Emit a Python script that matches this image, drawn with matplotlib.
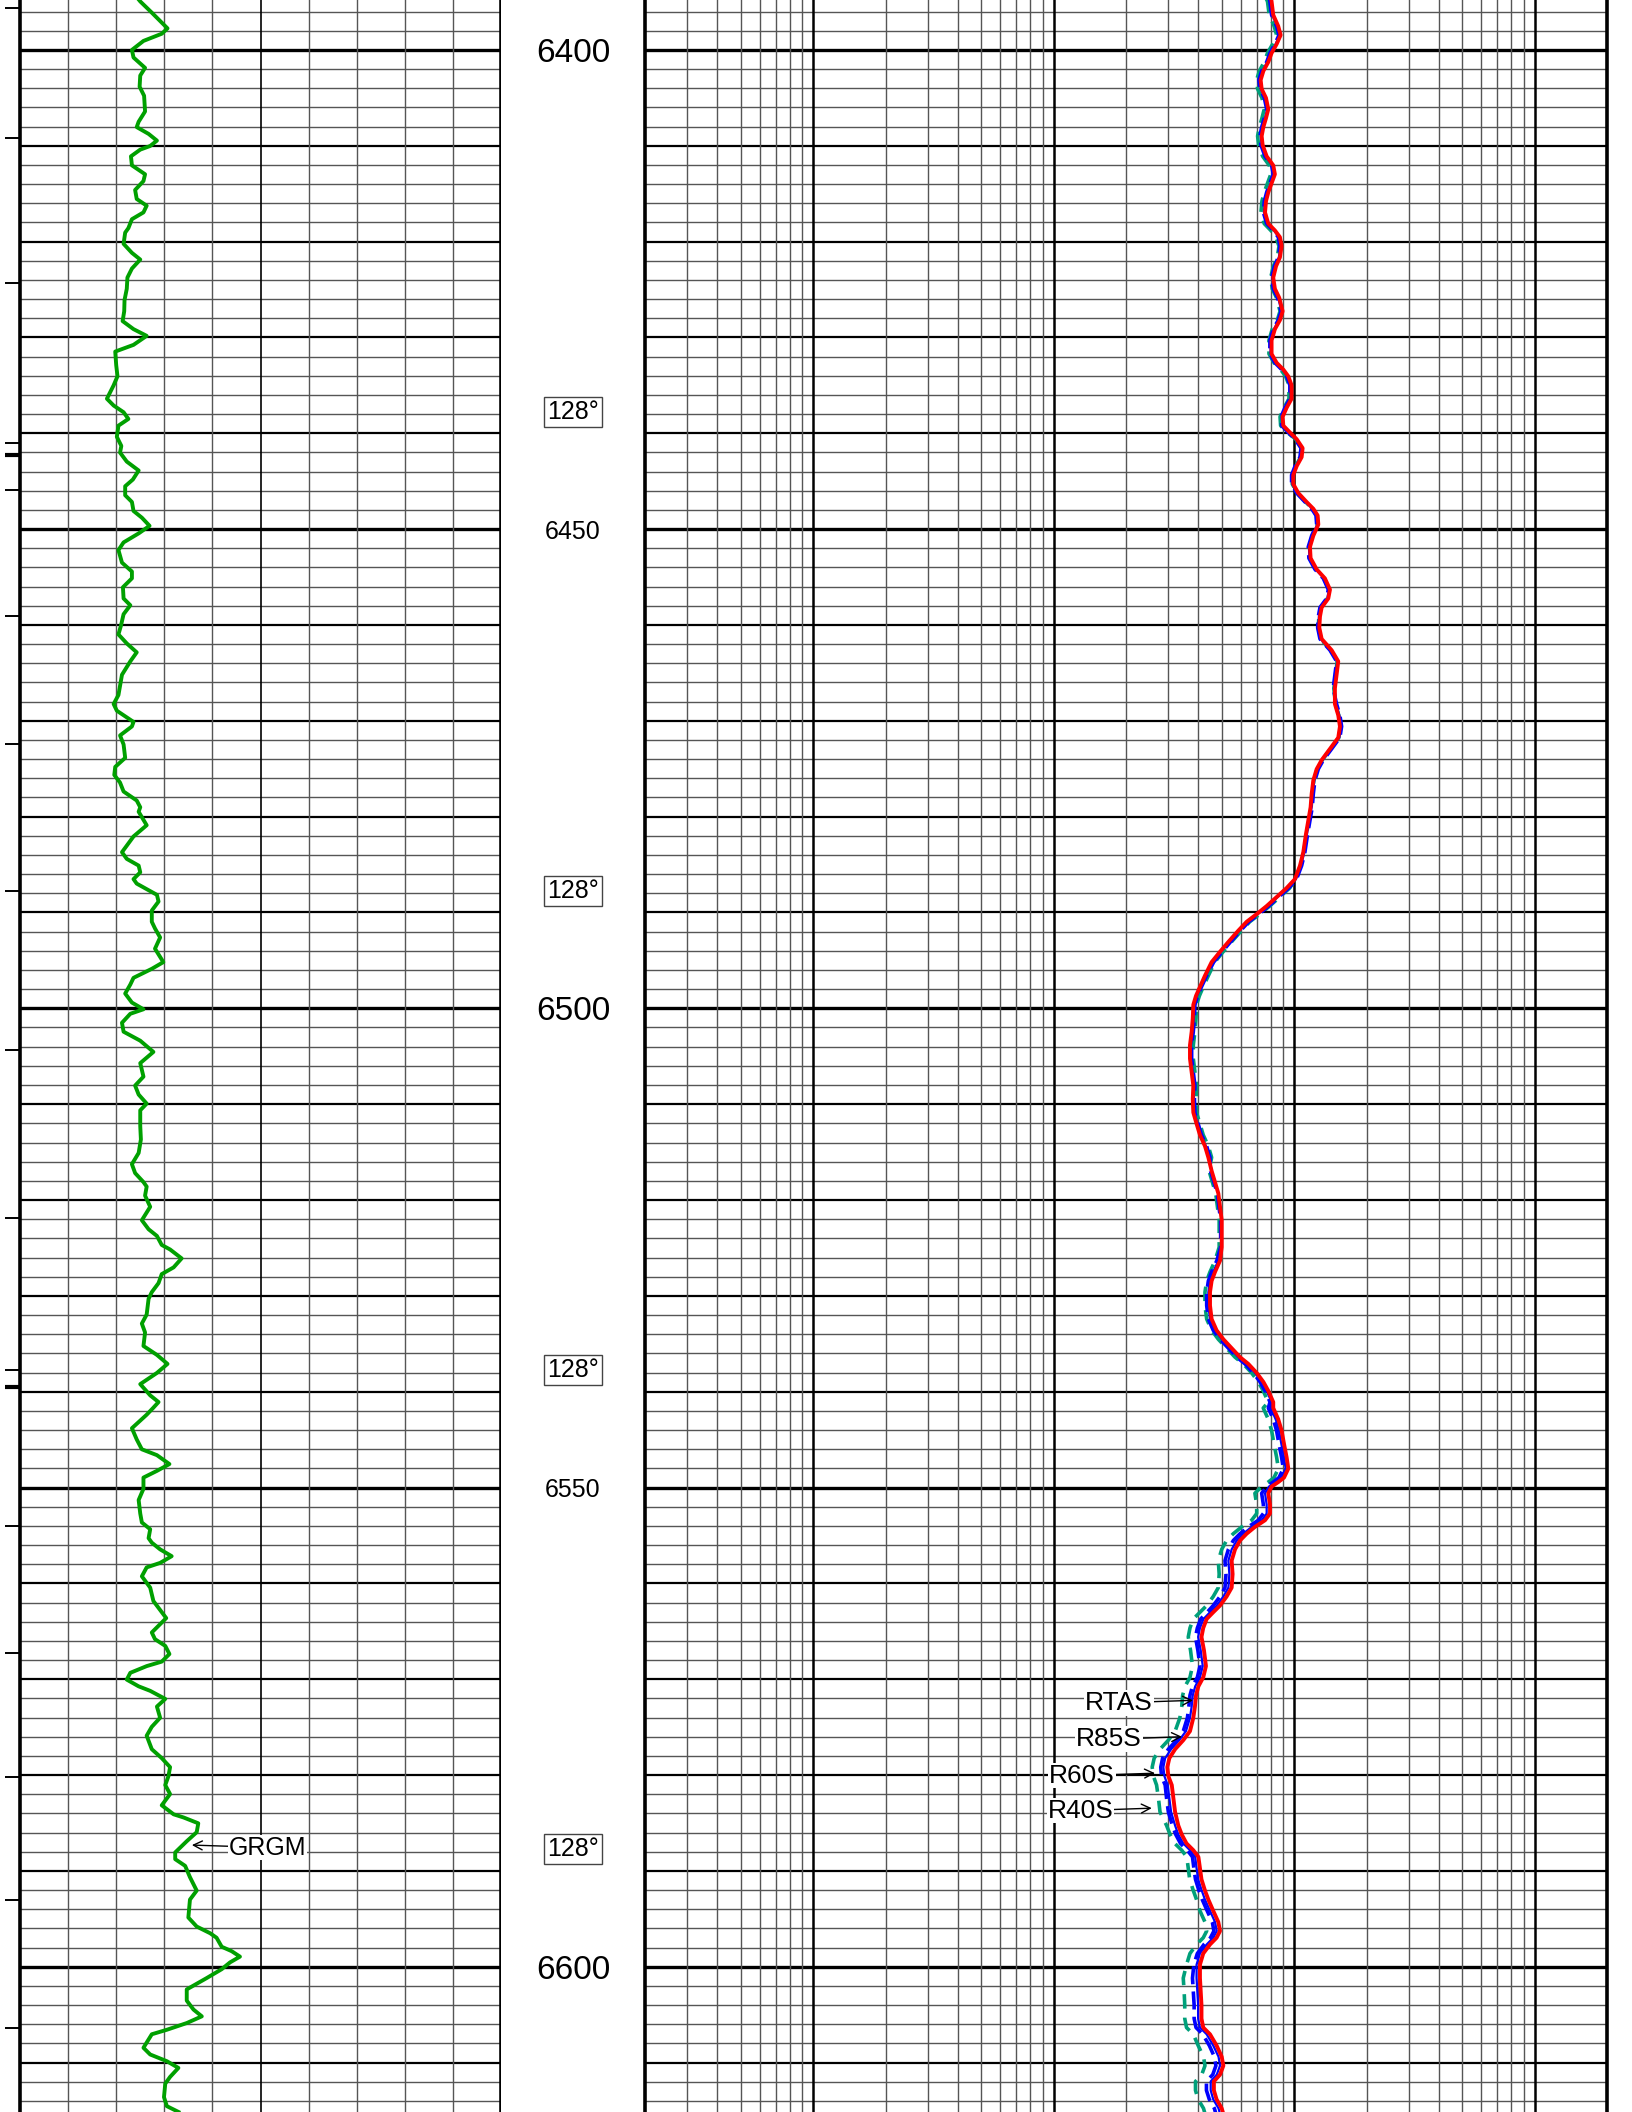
import numpy as np
import matplotlib
matplotlib.use("Agg")
import matplotlib.pyplot as plt
from matplotlib.ticker import NullLocator

plt.rcParams['font.family'] = ['Liberation Sans', 'DejaVu Sans']

# ---------------- data ----------------
DEPTH_TOP, DEPTH_BOT = 6394.80, 6615.15

gr_depth = [6394.50, 6394.95, 6396.12, 6396.82, 6397.76, 6398.32, 6399.07, 6400.01, 6400.80, 6401.88, 6402.68,
            6403.85, 6404.79, 6406.43, 6407.50, 6408.06, 6408.77, 6409.47, 6410.03, 6410.41, 6411.11,
            6412.05, 6412.98, 6413.69, 6414.62, 6415.56, 6416.26, 6416.96, 6417.67, 6418.60, 6419.07,
            6420.24, 6421.18, 6421.88, 6422.82, 6423.76, 6424.93, 6426.10, 6427.27, 6428.30, 6429.14,
            6429.84, 6430.78, 6431.48, 6432.89, 6434.06, 6435.00, 6436.40, 6437.11, 6437.81, 6438.51,
            6439.21, 6440.38, 6441.32, 6442.02, 6442.96, 6443.89, 6444.83, 6445.53, 6446.47, 6447.17,
            6448.11, 6448.81, 6449.66, 6450.45, 6451.39, 6452.19, 6453.50, 6454.43, 6455.14, 6456.07,
            6457.24, 6457.95, 6458.88, 6460.05, 6460.99, 6461.93, 6462.86, 6463.80, 6465.20, 6466.38,
            6467.31,
            6468.25, 6468.95, 6470.12, 6470.59, 6471.53, 6472.47, 6473.87, 6474.81, 6475.65, 6476.45,
            6477.38, 6478.32, 6479.02, 6479.49, 6480.90, 6482.07, 6483.71, 6484.41, 6485.11, 6485.81,
            6486.52, 6486.99, 6488.16, 6488.86, 6489.80, 6490.97, 6491.67, 6492.61, 6493.78, 6495.18,
            6495.88, 6496.82, 6497.52, 6498.46, 6499.40, 6500.10, 6500.57, 6501.51, 6502.44, 6503.38,
            6504.55, 6505.72, 6507.13, 6508.06, 6509.00, 6509.94, 6510.64, 6512.28, 6513.68, 6515.09,
            6516.26, 6517.19, 6518.13, 6518.60, 6519.54, 6520.71, 6522.11, 6523.05, 6523.75, 6524.69,
            6525.16, 6526.09, 6527.03, 6527.73, 6528.67, 6529.61, 6530.31, 6531.95, 6532.89, 6533.82,
            6535.23, 6536.16, 6537.10, 6538.04, 6539.21, 6540.38, 6541.08,
            6541.70, 6542.40, 6543.81, 6544.98, 6546.01, 6546.62, 6547.55, 6548.26, 6548.96, 6550.13,
            6551.30, 6552.71, 6553.64, 6554.35, 6555.28, 6555.75, 6556.45, 6557.16, 6557.86, 6558.33,
            6559.26, 6560.44, 6561.84, 6562.78, 6563.62, 6564.42, 6565.12, 6565.82, 6566.52, 6567.37,
            6568.16, 6568.63, 6569.33, 6570.04, 6570.74, 6571.21, 6572.05, 6572.85, 6574.02, 6574.96,
            6575.89, 6577.30, 6578.23, 6579.17, 6580.11, 6581.04, 6581.98, 6583.15, 6584.09, 6584.42,
            6585.03, 6585.96, 6586.90, 6588.07, 6588.77, 6589.47, 6590.65, 6592.05, 6592.99, 6594.86,
            6595.80, 6596.50, 6596.97, 6597.91, 6598.37, 6598.94, 6599.54, 6600.25, 6601.18, 6602.36,
            6603.53, 6604.46, 6605.17, 6605.87, 6606.57, 6607.04, 6608.45, 6609.15, 6609.85, 6610.55,
            6611.49, 6612.19, 6613.60, 6614.54, 6615.14]
gr_api = [36.4, 37.5, 41.1, 43.2, 46.0, 44.2, 38.5, 34.9, 35.4, 39.0, 37.5,
          37.3, 38.7, 39.0, 37.0, 36.4, 40.1, 42.7, 40.6, 37.5, 34.6,
          34.9, 39.0, 38.5, 35.9, 36.4, 39.5, 38.5, 34.9, 33.8, 32.8,
          32.3, 34.9, 37.5, 34.9, 33.5, 33.3, 32.6, 32.5, 32.0, 35.4,
          39.5, 35.4, 29.7, 30.0, 30.4, 29.2, 27.1, 29.2, 32.3, 33.8,
          30.7, 30.2, 31.6, 31.2, 33.3, 37.0, 35.2, 32.8, 32.8, 34.9,
          35.4, 38.0, 40.4, 37.0, 32.3, 30.7, 31.8, 34.9, 34.9, 32.1,
          32.3, 34.4, 32.3, 31.5, 30.7, 33.3, 36.4, 34.4, 31.8, 31.2,
          30.7,
          29.2, 30.2, 35.4, 34.9, 31.2, 32.3, 32.8, 29.7, 29.4, 31.2,
          32.3, 36.4, 37.5, 37.0, 39.5, 35.4, 31.8, 33.3, 37.0, 37.5,
          35.4, 36.4, 42.7, 43.2, 41.1, 41.1, 42.1, 43.7, 42.1, 44.7,
          41.1, 35.4, 34.4, 32.8, 34.9, 38.5, 34.4, 31.8, 32.3, 37.5,
          41.6, 37.5, 38.5, 35.9, 37.0, 39.5, 37.5, 37.5, 37.7, 37.0,
          34.9, 35.9, 38.5, 39.5, 39.0, 40.6, 38.0, 40.1, 42.7, 44.2,
          46.8, 50.4, 47.9, 44.2, 43.2, 41.1, 40.1, 39.5, 38.0, 39.0,
          38.5, 42.7, 46.0, 42.7, 37.5, 40.6, 43.2,
          41.5, 39.5, 34.9, 36.4, 38.0, 42.7, 46.6, 42.7, 38.5, 38.5,
          37.0, 37.5, 38.0, 40.6, 40.1, 41.1, 43.7, 47.3, 43.7, 39.5,
          38.0, 40.6, 41.6, 43.7, 45.6, 43.2, 41.1, 42.1, 45.3, 46.6,
          44.2, 39.5, 34.4, 33.3, 37.0, 40.6, 45.3, 42.7, 43.7, 41.1,
          39.5, 41.1, 44.2, 46.8, 46.3, 45.3, 46.8, 44.2, 47.9, 51.0,
          55.6, 55.1, 52.0, 48.4, 48.4, 51.5, 53.0, 55.1, 53.0, 52.5,
          55.1, 59.3, 61.3, 62.9, 66.0, 68.6, 65.5, 62.9, 58.2, 52.0,
          52.0, 54.1, 56.7, 52.0, 45.8, 41.1, 38.5, 40.6, 45.8, 49.4,
          46.8, 45.3, 44.9, 45.8, 49.4]

res_depth = [6394.50,
             6394.95, 6396.36, 6397.53, 6398.46, 6399.40, 6400.34, 6401.27, 6402.21, 6403.15, 6404.08,
             6405.02, 6406.19, 6407.13, 6408.06, 6409.00, 6409.94, 6411.11, 6412.05, 6412.98, 6413.92,
             6414.86, 6415.79, 6416.96, 6418.13, 6418.84, 6419.54, 6420.48, 6421.65, 6422.58, 6423.76,
             6424.93, 6425.86, 6427.27, 6428.20, 6429.14, 6430.31, 6431.72, 6432.65, 6433.36, 6434.06,
             6434.99, 6436.40, 6437.34, 6438.28, 6439.21, 6439.92, 6440.62, 6441.55, 6442.49, 6443.43,
             6444.36, 6445.30, 6446.24, 6447.17, 6447.88, 6448.58, 6449.52, 6450.69, 6451.86, 6453.03,
             6454.20, 6455.14, 6456.31, 6457.24, 6458.18, 6459.12, 6460.29, 6461.46, 6462.63, 6463.80,
             6465.20, 6466.61,
             6468.25, 6469.42, 6470.59, 6471.76, 6472.93, 6474.10, 6475.04, 6476.21, 6477.62, 6479.02,
             6480.43, 6481.83, 6483.71, 6485.11, 6486.52, 6487.45, 6488.39, 6489.33, 6490.17, 6490.97,
             6491.90, 6493.07, 6494.10, 6495.18, 6496.59, 6497.76, 6498.69, 6499.63, 6501.04, 6502.44,
             6503.85, 6505.25, 6506.66, 6508.06, 6509.47, 6510.87, 6512.04, 6513.21, 6514.38, 6515.56,
             6516.96, 6518.13, 6519.30, 6520.71, 6522.11, 6523.52, 6524.92, 6526.33, 6527.50, 6528.44,
             6529.61, 6531.01, 6532.42, 6533.59, 6534.53, 6535.46, 6536.40, 6537.10, 6538.04, 6538.98,
             6539.91, 6541.08,
             6541.70, 6542.87, 6544.04, 6545.45, 6546.85, 6548.02, 6548.96, 6549.43, 6549.90, 6550.60,
             6551.77, 6552.71, 6553.41, 6554.11, 6554.81, 6555.52, 6556.45, 6557.63, 6559.03, 6560.44,
             6561.37, 6562.31, 6563.01, 6563.71, 6564.65, 6565.59, 6566.99, 6568.63, 6569.80, 6570.74,
             6571.68, 6572.85, 6574.02, 6575.42, 6576.36, 6577.30, 6578.23, 6579.17, 6580.11, 6581.04,
             6582.45, 6583.85, 6585.26, 6586.20, 6587.13, 6587.84, 6588.54, 6589.71, 6590.88, 6592.05,
             6592.99, 6594.16, 6595.33, 6596.27, 6596.97, 6597.67, 6598.61, 6599.78, 6601.18, 6602.59,
             6603.99, 6605.40, 6606.34, 6607.04, 6608.21, 6609.38, 6610.32, 6611.25, 6611.96, 6612.89,
             6613.83, 6614.77, 6615.50]

rtas = [80.0,
        80.6, 81.9, 85.9, 87.9, 84.6, 80.6, 78.1, 74.5, 72.6, 73.3,
        76.4, 78.1, 76.4, 74.5, 73.3, 74.0, 76.9, 81.9, 83.2, 80.6,
        78.1, 76.4, 75.7, 78.1, 83.2, 87.3, 88.7, 87.3, 84.1, 81.9,
        83.2, 86.7, 89.6, 87.3, 83.2, 80.6, 80.6, 84.6, 90.2, 94.6,
        97.6, 97.6, 93.1, 89.6, 90.2, 96.1, 102.5, 108.5, 107.5, 102.5,
        99.2, 99.2, 104.1, 112.7, 120.2, 125.3, 126.1, 120.2, 116.4, 117.1,
        124.1, 134.3, 141.0, 138.7, 130.2, 128.1, 127.3, 130.2, 143.2, 152.6,
        150.2, 147.8,
        147.8, 152.6, 155.1, 152.6, 141.0, 130.2, 124.1, 120.2, 118.3, 117.1,
        114.5, 112.0, 109.2, 105.8, 100.8, 93.1, 84.6, 76.9, 69.9, 63.5,
        58.6, 53.3, 49.2, 45.4, 42.6, 40.6, 39.1, 38.1, 37.9, 37.5,
        36.9, 36.9, 37.5, 38.1, 37.9, 38.1, 39.3, 40.6, 42.6, 44.0,
        45.4, 46.9, 48.4, 49.2, 50.0, 50.0, 50.0, 49.2, 46.9, 45.4,
        44.7, 44.7, 45.4, 47.6, 50.8, 55.0, 59.6, 64.5, 69.9, 74.5,
        78.1, 81.9,
        81.9, 85.9, 88.7, 90.8, 93.1, 94.6, 90.8, 85.9, 80.6, 78.1,
        79.4, 79.4, 75.7, 68.7, 63.5, 59.6, 56.8, 55.0, 55.5, 55.0,
        52.4, 49.2, 46.1, 43.3, 41.9, 41.2, 42.2, 43.0, 41.9, 40.0,
        39.1, 38.7, 38.1, 36.9, 34.6, 32.0, 30.3, 29.7, 30.0, 31.0,
        31.5, 32.0, 33.0, 34.1, 35.7, 38.1, 40.0, 40.6, 41.2, 42.6,
        44.0, 46.1, 48.4, 49.2, 47.6, 44.7, 41.9, 40.6, 40.6, 40.9,
        41.2, 41.2, 41.9, 44.7, 47.6, 50.0, 50.8, 49.2, 46.4, 46.4,
        47.6, 50.0, 51.0]

r85s = [79.2,
        79.8, 81.1, 85.0, 87.0, 83.8, 79.8, 77.3, 73.8, 71.9, 72.6,
        75.6, 77.3, 75.6, 73.8, 72.6, 73.3, 76.1, 81.1, 82.4, 79.8,
        77.3, 75.6, 74.9, 77.3, 82.4, 86.4, 87.8, 86.4, 83.3, 81.1,
        82.4, 85.8, 88.7, 86.4, 82.4, 79.8, 79.8, 83.8, 89.3, 93.7,
        96.6, 96.6, 92.2, 88.7, 89.3, 95.1, 101.5, 107.4, 106.4, 101.5,
        98.2, 98.2, 103.1, 111.6, 119.0, 124.0, 124.8, 119.0, 115.2, 115.9,
        122.9, 133.0, 139.6, 137.3, 128.9, 126.8, 126.0, 128.9, 141.8, 151.1,
        148.7, 146.3,
        149.3, 154.1, 156.7, 154.1, 142.4, 131.5, 125.3, 121.4, 119.5, 118.3,
        115.6, 113.1, 110.3, 106.9, 101.8, 94.0, 85.4, 77.7, 70.6, 64.1,
        59.2, 53.8, 49.7, 45.9, 43.0, 41.0, 39.5, 38.5, 38.3, 37.9,
        37.3, 37.3, 37.9, 38.5, 38.3, 38.5, 39.7, 41.0, 43.0, 44.4,
        45.4, 46.9, 48.4, 49.2, 50.0, 50.0, 50.0, 48.4, 46.1, 44.7,
        44.0, 44.0, 44.7, 46.8, 50.0, 54.1, 58.6, 63.5, 68.8, 73.3,
        76.9, 80.6,
        79.9, 83.8, 86.5, 88.5, 90.8, 92.2, 88.5, 83.8, 78.6, 75.7,
        76.9, 76.9, 73.4, 66.6, 61.5, 57.8, 55.0, 53.3, 53.8, 53.3,
        50.8, 47.7, 44.7, 42.0, 40.6, 39.9, 40.9, 41.7, 40.6, 38.8,
        37.9, 37.5, 36.9, 35.5, 33.3, 30.8, 29.1, 28.6, 28.9, 29.8,
        30.3, 30.8, 32.0, 33.0, 34.6, 36.9, 38.8, 39.3, 39.9, 41.3,
        42.6, 44.7, 46.9, 47.7, 46.1, 43.3, 40.6, 39.3, 39.3, 39.6,
        39.9, 39.9, 40.6, 43.3, 46.1, 48.5, 49.2, 47.7, 45.0, 45.0,
        46.1, 48.5, 49.4]

r60s = [78.7,
        79.3, 80.6, 84.5, 86.5, 83.2, 79.3, 76.9, 73.3, 71.4, 72.1,
        75.2, 76.9, 75.2, 73.3, 72.1, 72.8, 75.7, 80.6, 81.9, 79.3,
        76.9, 75.2, 74.5, 76.9, 81.9, 85.9, 87.3, 85.9, 82.8, 80.6,
        81.9, 85.3, 88.2, 85.9, 81.9, 79.3, 79.3, 83.2, 88.8, 93.1,
        96.0, 96.0, 91.6, 88.2, 88.8, 94.6, 100.9, 106.8, 105.8, 100.9,
        97.6, 97.6, 102.4, 110.9, 118.3, 123.3, 124.1, 118.3, 114.5, 115.2,
        122.1, 132.2, 138.7, 136.5, 128.1, 126.1, 125.3, 128.1, 140.9, 150.2,
        147.8, 145.4,
        150.2, 155.0, 157.6, 155.0, 143.3, 132.3, 126.1, 122.1, 120.2, 119.0,
        116.3, 113.8, 110.9, 107.5, 102.4, 95.0, 86.3, 78.4, 71.3, 64.8,
        59.8, 54.4, 50.2, 46.3, 43.3, 41.2, 39.7, 38.7, 38.5, 38.1,
        37.5, 37.5, 38.1, 38.7, 38.5, 38.7, 39.9, 41.2, 43.3, 44.7,
        44.9, 46.4, 47.9, 48.7, 49.5, 49.5, 49.5, 47.7, 45.4, 44.0,
        43.3, 43.3, 44.0, 46.1, 49.2, 53.3, 57.8, 62.5, 67.7, 72.2,
        75.7, 79.4,
        78.1, 81.9, 84.5, 86.5, 88.7, 90.2, 86.5, 81.9, 76.8, 73.3,
        74.5, 74.5, 71.0, 64.4, 59.6, 55.9, 53.3, 51.6, 52.1, 51.6,
        49.2, 46.1, 43.5, 40.9, 39.6, 38.9, 39.8, 40.6, 39.6, 37.8,
        36.9, 36.5, 36.0, 34.6, 32.5, 30.0, 28.4, 27.9, 28.1, 29.1,
        29.5, 30.0, 31.2, 32.2, 33.7, 36.0, 37.8, 38.3, 38.9, 40.2,
        41.5, 43.5, 45.7, 46.4, 44.9, 42.2, 39.6, 38.3, 37.8, 38.1,
        38.4, 38.4, 39.1, 41.7, 44.4, 46.6, 47.3, 45.9, 43.2, 43.2,
        44.4, 46.6, 47.5]

r40s = [76.0,
        77.5, 78.8, 82.6, 84.6, 81.4, 77.5, 75.1, 71.7, 69.8, 70.5,
        73.5, 75.1, 73.5, 71.7, 70.5, 71.2, 74.0, 78.8, 80.0, 77.5,
        75.1, 73.5, 72.8, 75.1, 80.0, 84.0, 86.5, 85.1, 82.0, 79.9,
        81.1, 84.5, 87.4, 85.1, 81.1, 78.6, 78.6, 82.5, 87.9, 92.2,
        95.2, 95.2, 90.8, 87.4, 87.9, 93.7, 101.5, 107.4, 106.4, 101.5,
        98.2, 98.2, 103.1, 111.6, 119.0, 124.0, 124.8, 119.0, 115.2, 115.9,
        122.9, 133.0, 139.6, 137.3, 128.9, 126.8, 126.0, 128.9, 141.8, 151.1,
        148.7, 146.3,
        148.5, 153.4, 155.9, 153.4, 141.7, 130.9, 124.7, 120.8, 118.9, 117.7,
        115.1, 112.6, 109.7, 106.3, 101.3, 95.9, 87.1, 79.2, 72.0, 65.4,
        60.4, 54.9, 50.7, 46.8, 44.0, 41.9, 40.4, 39.3, 39.1, 38.7,
        38.1, 38.1, 38.7, 39.3, 39.1, 39.3, 40.6, 41.9, 44.0, 45.4,
        44.3, 45.7, 47.2, 48.0, 48.8, 48.8, 48.8, 46.9, 44.7, 43.3,
        42.6, 42.6, 43.3, 45.4, 48.4, 52.4, 56.8, 61.5, 66.6, 71.0,
        74.4, 78.1,
        74.4, 78.1, 80.6, 82.5, 84.6, 86.0, 82.5, 78.1, 73.3, 68.7,
        69.9, 69.9, 66.6, 60.5, 55.9, 52.4, 50.0, 48.4, 48.8, 48.4,
        46.1, 43.3, 40.6, 38.1, 36.9, 36.3, 37.1, 37.8, 36.9, 35.2,
        34.4, 34.1, 33.5, 32.0, 30.0, 27.7, 26.2, 25.7, 26.0, 26.8,
        27.3, 27.7, 29.5, 30.5, 31.9, 34.1, 35.8, 36.3, 36.8, 38.1,
        39.3, 40.6, 42.6, 43.3, 41.9, 39.3, 36.9, 35.7, 34.6, 34.9,
        35.1, 35.1, 35.7, 38.1, 39.9, 42.0, 42.6, 41.3, 38.9, 38.9,
        39.9, 42.0, 42.8]

depth_major_labels = [6400, 6500, 6600]
depth_minor_labels = [6450, 6550]
temp_depths = [6437.5, 6487.5, 6537.5, 6587.5]
temp_text = "128°"
edge_ticks = [6395.6, 6409.15, 6424.3, 6441.0, 6445.95, 6459.1, 6472.45, 6487.8,
              6504.4, 6521.9, 6537.7, 6554.0, 6567.3, 6580.2, 6593.0, 6606.4]
edge_ticks_bold = [6442.3, 6539.5]

# curve label annotations: (name, tip value, text edge value, depth)
gr_label = ("GRGM", 53.6, 65.2, 6587.3)
res_labels = [("RTAS", 38.0, 25.9, 6572.2),
              ("R85S", 34.2, 23.3, 6576.0),
              ("R60S", 26.4, 18.0, 6579.8),
              ("R40S", 25.6, 17.7, 6583.45)]

GR_MIN, GR_MAX = 0, 150
RES_MIN, RES_MAX = 0.2, 2000

# ---------------- layout ----------------
W, H = 1632, 2112
fig = plt.figure(figsize=(W / 100, H / 100), dpi=100)
fig.patch.set_facecolor("white")

def fx(px):
    return px / W

ax_tk = fig.add_axes([0, 0, fx(20), 1])
ax_gr = fig.add_axes([fx(20), 0, fx(481), 1])
ax_dep = fig.add_axes([fx(501), 0, fx(144), 1])
ax_res = fig.add_axes([fx(645), 0, fx(962), 1])

ax_res.set_xscale("log")
ax_res.set_xlim(RES_MIN, RES_MAX)
ax_gr.set_xlim(GR_MIN, GR_MAX)
ax_dep.set_xlim(0, 1)
ax_tk.set_xlim(0, 20)

for ax in (ax_tk, ax_gr, ax_dep, ax_res):
    ax.set_ylim(DEPTH_BOT, DEPTH_TOP)
    ax.xaxis.set_major_locator(NullLocator())
    ax.xaxis.set_minor_locator(NullLocator())
    ax.yaxis.set_major_locator(NullLocator())
    ax.yaxis.set_minor_locator(NullLocator())
    ax.tick_params(which="both", bottom=False, top=False, left=False, right=False,
                   labelbottom=False, labelleft=False)

for ax in (ax_tk, ax_dep):
    for s in ax.spines.values():
        s.set_visible(False)
for ax in (ax_gr, ax_res):
    ax.spines["top"].set_visible(False)
    ax.spines["bottom"].set_visible(False)
    for side in ("left", "right"):
        ax.spines[side].set_linewidth(2.6)
        ax.spines[side].set_color("black")
        ax.spines[side].set_zorder(6)

# horizontal grid
for d in range(6396, 6616, 2):
    if d % 50 == 0:
        lw, c = 2.4, "black"
    elif d % 10 == 0:
        lw, c = 1.6, "black"
    else:
        lw, c = 1.0, "#555555"
    for ax in (ax_gr, ax_res):
        ax.axhline(d, color=c, lw=lw, zorder=1)

# vertical grid, GR track
for i in range(1, 10):
    v = GR_MIN + i * (GR_MAX - GR_MIN) / 10
    ax_gr.axvline(v, color="black" if i == 5 else "#555555",
                  lw=1.2 if i == 5 else 1.0, zorder=1)

# vertical grid, resistivity track (log)
for k in range(-1, 4):
    for m in range(1, 10):
        v = m * 10.0 ** k
        if v <= RES_MIN * 1.0001 or v >= RES_MAX * 0.9999:
            continue
        if m == 1:
            ax_res.axvline(v, color="black", lw=1.8, zorder=1)
        else:
            ax_res.axvline(v, color="#555555", lw=1.0, zorder=1)

# edge ticks
ax_tk.hlines(edge_ticks, 5, 20, color="black", lw=1.4)
ax_tk.hlines(edge_ticks_bold, 5, 20, color="black", lw=3.0)

# curves
ax_gr.plot(gr_api, gr_depth, color="#00A000", lw=2.8, zorder=3, solid_joinstyle="round")
ax_res.plot(r40s, res_depth, color="#00A07A", lw=2.6, ls=(0, (4, 2.5)), zorder=3)
ax_res.plot(r60s, res_depth, color="#0000FF", lw=2.6, ls=(0, (5, 2)), zorder=3)
ax_res.plot(r85s, res_depth, color="#0000FF", lw=1.6, zorder=3)
ax_res.plot(rtas, res_depth, color="#FF0000", lw=2.8, zorder=4)

# depth track labels
for d in depth_major_labels:
    ax_dep.text(0.5, d, str(d), ha="center", va="center_baseline", fontsize=24, zorder=5)
for d in depth_minor_labels:
    ax_dep.text(0.5, d, str(d), ha="center", va="center_baseline", fontsize=18, zorder=5)
for d in temp_depths:
    ax_dep.text(0.5, d, temp_text, ha="center", va="center_baseline", fontsize=18, zorder=5,
                bbox=dict(boxstyle="square,pad=0.12", fc="white", ec="#444444", lw=1.0))

# curve labels with arrows
name, tip, edge, dd = gr_label
ax_gr.annotate(name, xy=(tip, dd), xytext=(edge, dd), ha="left", va="center_baseline",
               fontsize=18, zorder=7,
               bbox=dict(boxstyle="square,pad=0.03", fc="white", ec="none"),
               arrowprops=dict(arrowstyle="->", color="black", lw=1.0,
                               shrinkA=0, shrinkB=0, mutation_scale=16))
for name, tip, edge, dd in res_labels:
    ax_res.annotate(name, xy=(tip, dd), xytext=(edge, dd), ha="right", va="center_baseline",
                    fontsize=19, zorder=7,
                    bbox=dict(boxstyle="square,pad=0.03", fc="white", ec="none"),
                    arrowprops=dict(arrowstyle="->", color="black", lw=1.0,
                                    shrinkA=0, shrinkB=0, mutation_scale=16))

fig.savefig("out.png", dpi=100, facecolor="white")
